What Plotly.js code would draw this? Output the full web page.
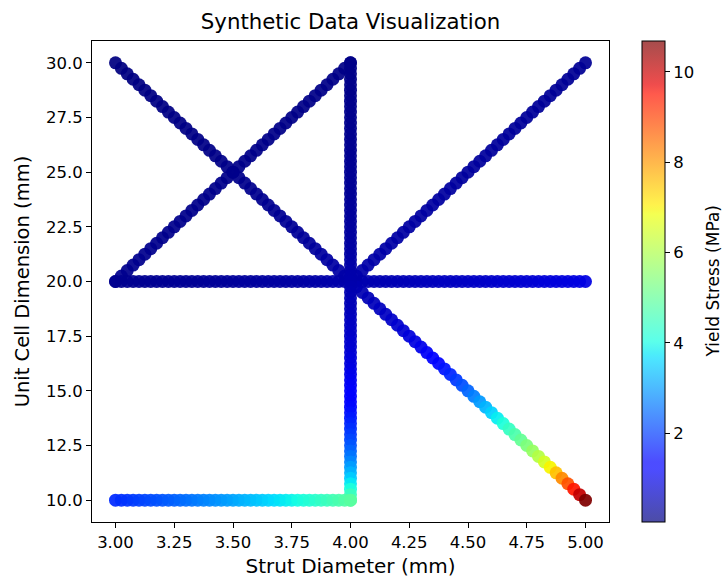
<!DOCTYPE html>
<html>
<head>
<meta charset="utf-8">
<script src="https://cdn.plot.ly/plotly-3.0.1.min.js"></script>
<style>
html,body{margin:0;padding:0;background:#fff;}
#chart{width:723px;height:579px;}
</style>
</head>
<body>
<div id="chart"></div>
<script>
// ---- Data ----
// strut diameter (mm) positions
const diam_3to5 = [3, 3.025, 3.05, 3.075, 3.1, 3.125, 3.15, 3.175, 3.2, 3.225, 3.25, 3.275, 3.3, 3.325, 3.35, 3.375, 3.4, 3.425, 3.45, 3.475, 3.5, 3.525, 3.55, 3.575, 3.6, 3.625, 3.65, 3.675, 3.7, 3.725, 3.75, 3.775, 3.8, 3.825, 3.85, 3.875, 3.9, 3.925, 3.95, 3.975, 4, 4.025, 4.05, 4.075, 4.1, 4.125, 4.15, 4.175, 4.2, 4.225, 4.25, 4.275, 4.3, 4.325, 4.35, 4.375, 4.4, 4.425, 4.45, 4.475, 4.5, 4.525, 4.55, 4.575, 4.6, 4.625, 4.65, 4.675, 4.7, 4.725, 4.75, 4.775, 4.8, 4.825, 4.85, 4.875, 4.9, 4.925, 4.95, 4.975, 5];
const diam_3to4 = [3, 3.025, 3.05, 3.075, 3.1, 3.125, 3.15, 3.175, 3.2, 3.225, 3.25, 3.275, 3.3, 3.325, 3.35, 3.375, 3.4, 3.425, 3.45, 3.475, 3.5, 3.525, 3.55, 3.575, 3.6, 3.625, 3.65, 3.675, 3.7, 3.725, 3.75, 3.775, 3.8, 3.825, 3.85, 3.875, 3.9, 3.925, 3.95, 3.975, 4];
const diam_4to5 = [4, 4.025, 4.05, 4.075, 4.1, 4.125, 4.15, 4.175, 4.2, 4.225, 4.25, 4.275, 4.3, 4.325, 4.35, 4.375, 4.4, 4.425, 4.45, 4.475, 4.5, 4.525, 4.55, 4.575, 4.6, 4.625, 4.65, 4.675, 4.7, 4.725, 4.75, 4.775, 4.8, 4.825, 4.85, 4.875, 4.9, 4.925, 4.95, 4.975, 5];
const diam_4 = [4,4,4,4,4,4,4,4,4,4, 4,4,4,4,4,4,4,4,4,4, 4,4,4,4,4,4,4,4,4,4, 4,4,4,4,4,4,4,4,4,4, 4,4,4,4,4,4,4,4,4,4, 4,4,4,4,4,4,4,4,4,4, 4,4,4,4,4,4,4,4,4,4, 4,4,4,4,4,4,4,4,4,4, 4];
// unit cell dimension (mm) positions
const cell_30to10 = [30, 29.75, 29.5, 29.25, 29, 28.75, 28.5, 28.25, 28, 27.75, 27.5, 27.25, 27, 26.75, 26.5, 26.25, 26, 25.75, 25.5, 25.25, 25, 24.75, 24.5, 24.25, 24, 23.75, 23.5, 23.25, 23, 22.75, 22.5, 22.25, 22, 21.75, 21.5, 21.25, 21, 20.75, 20.5, 20.25, 20, 19.75, 19.5, 19.25, 19, 18.75, 18.5, 18.25, 18, 17.75, 17.5, 17.25, 17, 16.75, 16.5, 16.25, 16, 15.75, 15.5, 15.25, 15, 14.75, 14.5, 14.25, 14, 13.75, 13.5, 13.25, 13, 12.75, 12.5, 12.25, 12, 11.75, 11.5, 11.25, 11, 10.75, 10.5, 10.25, 10];
const cell_20to30 = [20, 20.25, 20.5, 20.75, 21, 21.25, 21.5, 21.75, 22, 22.25, 22.5, 22.75, 23, 23.25, 23.5, 23.75, 24, 24.25, 24.5, 24.75, 25, 25.25, 25.5, 25.75, 26, 26.25, 26.5, 26.75, 27, 27.25, 27.5, 27.75, 28, 28.25, 28.5, 28.75, 29, 29.25, 29.5, 29.75, 30];
const cell_20 = [20,20,20,20,20,20,20,20,20,20, 20,20,20,20,20,20,20,20,20,20, 20,20,20,20,20,20,20,20,20,20, 20,20,20,20,20,20,20,20,20,20, 20,20,20,20,20,20,20,20,20,20, 20,20,20,20,20,20,20,20,20,20, 20,20,20,20,20,20,20,20,20,20, 20,20,20,20,20,20,20,20,20,20, 20];
const cell_10 = [10,10,10,10,10,10,10,10,10,10, 10,10,10,10,10,10,10,10,10,10, 10,10,10,10,10,10,10,10,10,10, 10,10,10,10,10,10,10,10,10,10, 10];

// yield stress (MPa) per point, estimated from the colours
const stress_diagDown = [0.033, 0.037, 0.041, 0.044, 0.048, 0.051, 0.054, 0.058, 0.061, 0.065, 0.069, 0.073, 0.077, 0.082, 0.087, 0.092, 0.098, 0.104, 0.110, 0.117, 0.124, 0.132, 0.140, 0.149, 0.158, 0.168, 0.179, 0.190, 0.202, 0.214, 0.228, 0.243, 0.259, 0.276, 0.294, 0.313, 0.334, 0.356, 0.380, 0.405, 0.432, 0.462, 0.494, 0.528, 0.564, 0.603, 0.646, 0.693, 0.742, 0.796, 0.86, 0.93, 1.01, 1.12, 1.24, 1.38, 1.55, 1.74, 1.95, 2.17, 2.41, 2.68, 2.96, 3.25, 3.55, 3.84, 4.13, 4.43, 4.73, 5.04, 5.36, 5.70, 6.07, 6.47, 6.95, 7.55, 8.15, 8.80, 9.45, 10.05, 10.68];
const stress_diagUpLeft = [0.16, 0.16, 0.15, 0.15, 0.15, 0.15, 0.15, 0.14, 0.14, 0.14, 0.14, 0.14, 0.13, 0.13, 0.13, 0.13, 0.13, 0.13, 0.13, 0.12, 0.12, 0.12, 0.12, 0.12, 0.12, 0.12, 0.12, 0.12, 0.11, 0.11, 0.11, 0.11, 0.11, 0.11, 0.11, 0.11, 0.11, 0.11, 0.11, 0.11, 0.10];
const stress_vertical = [0.10, 0.11, 0.11, 0.11, 0.12, 0.12, 0.12, 0.13, 0.13, 0.14, 0.14, 0.15, 0.15, 0.16, 0.16, 0.17, 0.17, 0.18, 0.19, 0.19, 0.20, 0.21, 0.21, 0.22, 0.23, 0.24, 0.25, 0.26, 0.27, 0.28, 0.29, 0.30, 0.31, 0.32, 0.34, 0.35, 0.37, 0.38, 0.40, 0.42, 0.43, 0.45, 0.47, 0.49, 0.52, 0.54, 0.57, 0.60, 0.63, 0.66, 0.69, 0.73, 0.76, 0.80, 0.85, 0.89, 0.94, 1.00, 1.06, 1.12, 1.18, 1.26, 1.34, 1.42, 1.51, 1.61, 1.72, 1.83, 1.95, 2.09, 2.24, 2.40, 2.58, 2.78, 3.00, 3.24, 3.50, 3.80, 4.12, 4.49, 4.89];
const stress_bottom = [1.79, 1.84, 1.90, 1.96, 2.01, 2.07, 2.13, 2.19, 2.24, 2.30, 2.36, 2.43, 2.50, 2.57, 2.64, 2.71, 2.78, 2.85, 2.92, 2.99, 3.06, 3.15, 3.23, 3.31, 3.40, 3.48, 3.57, 3.65, 3.73, 3.82, 3.90, 4.00, 4.10, 4.20, 4.30, 4.40, 4.49, 4.59, 4.69, 4.79, 4.89];
const stress_middle = [0.16, 0.16, 0.17, 0.17, 0.18, 0.18, 0.19, 0.19, 0.20, 0.20, 0.21, 0.22, 0.22, 0.23, 0.23, 0.24, 0.25, 0.25, 0.26, 0.26, 0.27, 0.28, 0.29, 0.29, 0.30, 0.31, 0.32, 0.32, 0.33, 0.34, 0.35, 0.35, 0.36, 0.37, 0.38, 0.39, 0.40, 0.41, 0.42, 0.42, 0.43, 0.44, 0.45, 0.46, 0.47, 0.48, 0.49, 0.50, 0.51, 0.52, 0.53, 0.55, 0.56, 0.57, 0.58, 0.59, 0.61, 0.62, 0.63, 0.64, 0.65, 0.67, 0.68, 0.69, 0.71, 0.72, 0.74, 0.75, 0.76, 0.78, 0.79, 0.80, 0.82, 0.84, 0.85, 0.87, 0.88, 0.90, 0.91, 0.93, 0.94];
const stress_diagUpRight = [0.43, 0.42, 0.42, 0.41, 0.40, 0.39, 0.39, 0.38, 0.37, 0.36, 0.35, 0.35, 0.34, 0.34, 0.33, 0.33, 0.32, 0.32, 0.31, 0.30, 0.30, 0.30, 0.29, 0.29, 0.28, 0.28, 0.28, 0.27, 0.27, 0.26, 0.26, 0.26, 0.25, 0.25, 0.25, 0.24, 0.24, 0.24, 0.23, 0.23, 0.23];

const xTicks = [3, 3.25, 3.5, 3.75, 4, 4.25, 4.5, 4.75, 5];
const yTicks = [10, 12.5, 15, 17.5, 20, 22.5, 25, 27.5, 30];
const cbTicks = [2, 4, 6, 8, 10];

// ---- Build the traces ----
const xs = [].concat(diam_3to5, diam_3to4, diam_4to5, diam_3to5, diam_4, diam_3to4);
const ys = [].concat(cell_20, cell_20to30, cell_20to30, cell_30to10, cell_30to10, cell_10);
const cs = [].concat(stress_middle, stress_diagUpLeft, stress_diagUpRight, stress_diagDown, stress_vertical, stress_bottom);

const jetStops = [
  [0, [0,0,128]], [0.11, [0,0,255]], [0.125, [0,0,255]], [0.34, [0,219,255]],
  [0.35, [0,230,247]], [0.375, [21,255,226]], [0.64, [239,255,8]], [0.65, [247,245,0]],
  [0.66, [255,236,0]], [0.89, [255,19,0]], [0.91, [232,0,0]], [1, [128,0,0]]
];
const scale = a => jetStops.map(s => [s[0], 'rgba(' + s[1].join(',') + ',' + a + ')']);

const FONT = 'DejaVu Sans, Liberation Sans, sans-serif';
const CMIN = 0.033, CMAX = 10.68;

// carrier of the colour bar (faded like the alpha=0.7 scatter)
const barTrace = {
  type: 'scatter', mode: 'markers', x: xs, y: ys, hoverinfo: 'skip', showlegend: false,
  marker: {
    size: 1, opacity: 0, color: cs, colorscale: scale(0.7), cmin: CMIN, cmax: CMAX,
    colorbar: {
      thickness: 23, thicknessmode: 'pixels', len: 1, lenmode: 'fraction',
      x: 1.0635, xanchor: 'left', xpad: 0, y: 0.5, yanchor: 'middle', ypad: 0,
      outlinewidth: 1, outlinecolor: '#000',
      tickvals: cbTicks, ticks: 'outside', ticklen: 5, tickwidth: 1, tickcolor: '#000',
      tickfont: {family: FONT, size: 16.5, color: '#000'},
      title: {text: ''}
    }
  }
};

const pointTrace = {
  type: 'scatter', mode: 'markers', x: xs, y: ys, hoverinfo: 'skip', showlegend: false,
  marker: {
    size: 13, opacity: 0.93, color: cs, colorscale: scale(1), cmin: CMIN, cmax: CMAX,
    showscale: false, line: {width: 0}
  }
};

const axisCommon = {
  showgrid: false, zeroline: false, showline: true, mirror: true,
  linecolor: '#000', linewidth: 1, ticks: 'outside', ticklen: 5, tickwidth: 1, tickcolor: '#000',
  tickfont: {family: FONT, size: 16.5, color: '#000'}
};

const layout = {
  width: 723, height: 579,
  margin: {l: 92, r: 114, t: 41, b: 57, pad: 0},
  paper_bgcolor: '#fff', plot_bgcolor: '#fff',
  font: {family: FONT, color: '#000'},
  title: {text: 'Synthetic Data Visualization', x: 0.5, xref: 'paper', xanchor: 'center', y: 0.963, yanchor: 'middle',
          font: {family: FONT, size: 21.3, color: '#000'}},
  xaxis: Object.assign({}, axisCommon, {
    range: [2.9, 5.1], tickvals: xTicks, tickformat: '.2f',
    title: {text: 'Strut Diameter (mm)', standoff: 8, font: {family: FONT, size: 20, color: '#000'}}
  }),
  yaxis: Object.assign({}, axisCommon, {
    range: [9, 31], tickvals: yTicks, tickformat: '.1f',
    title: {text: 'Unit Cell Dimension (mm)', standoff: 11, font: {family: FONT, size: 19.5, color: '#000'}}
  }),
  annotations: [{
    text: 'Yield Stress (MPa)', textangle: -90, xref: 'paper', yref: 'paper',
    x: 1.201, y: 0.5, xanchor: 'center', yanchor: 'middle', showarrow: false,
    font: {family: FONT, size: 17, color: '#000'}
  }]
};

Plotly.newPlot('chart', [barTrace, pointTrace], layout, {displayModeBar: false, staticPlot: true});
</script>
</body>
</html>
